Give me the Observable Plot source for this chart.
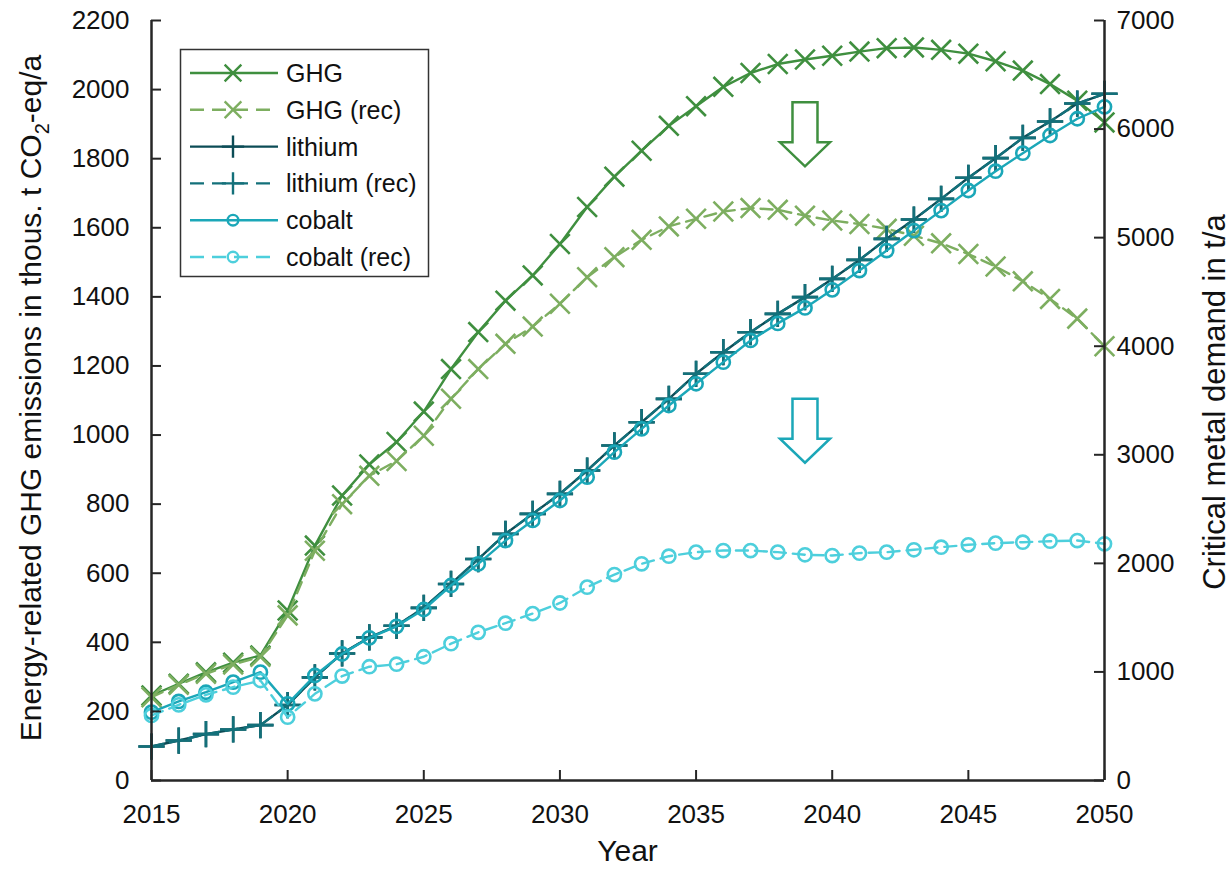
<!DOCTYPE html>
<html><head><meta charset="utf-8">
<script src="https://cdn.jsdelivr.net/npm/d3@7"></script>
<script src="https://cdn.jsdelivr.net/npm/@observablehq/plot@0.6"></script>
<style>
body{margin:0;background:#fff;}
#chart{width:1232px;height:870px;}
</style></head><body><div id="chart"></div>
<script>
const years = [2015,2016,2017,2018,2019,2020,2021,2022,2023,2024,2025,2026,2027,2028,2029,2030,2031,2032,2033,2034,2035,2036,2037,2038,2039,2040,2041,2042,2043,2044,2045,2046,2047,2048,2049,2050];

// GHG emissions, thous. t CO2-eq/a (left axis)
const ghg    = [246,280,313,341,362,492,680,825,915,980,1068,1191,1298,1389,1462,1553,1660,1748,1823,1895,1952,2008,2048,2074,2087,2098,2110,2120,2122,2115,2104,2082,2055,2016,1968,1905];
const ghgRec = [241,277,309,336,358,478,665,800,882,925,998,1105,1191,1264,1314,1380,1457,1515,1565,1604,1626,1647,1657,1652,1635,1621,1611,1597,1577,1555,1524,1488,1445,1394,1337,1257];

// Critical metal demand, t/a (right axis)
const lithium    = [313,368,427,470,510,695,950,1170,1318,1425,1590,1810,2040,2272,2456,2640,2855,3086,3300,3515,3746,3945,4129,4298,4452,4620,4795,4989,5167,5357,5551,5732,5919,6070,6235,6325];
const lithiumRec = [313,368,427,470,510,695,950,1170,1318,1425,1590,1810,2040,2272,2456,2640,2855,3086,3300,3515,3746,3945,4129,4298,4452,4620,4795,4989,5167,5357,5551,5732,5919,6070,6235,6325];
const cobalt     = [629,728,813,906,998,706,967,1165,1314,1420,1575,1796,1995,2210,2395,2579,2794,3024,3239,3454,3654,3853,4053,4210,4353,4519,4697,4881,5065,5249,5434,5612,5778,5941,6095,6205];
const cobaltRec  = [599,697,789,860,921,583,798,962,1048,1071,1140,1260,1365,1449,1537,1635,1781,1897,1996,2066,2103,2118,2118,2103,2079,2072,2094,2103,2125,2149,2171,2186,2195,2204,2210,2180];

const xTicks = [2015,2020,2025,2030,2035,2040,2045,2050];
const leftTicks = [0,200,400,600,800,1000,1200,1400,1600,1800,2000,2200];
const rightTicks = [0,1000,2000,3000,4000,5000,6000,7000];
const leftMax = 2200, rightMax = 7000;

const seriesNames = ["GHG","GHG (rec)","lithium","lithium (rec)","cobalt","cobalt (rec)"];
const seriesValues = [ghg, ghgRec, lithium, lithiumRec, cobalt, cobaltRec];
const seriesAxis = ["left","left","right","right","right","right"];
const seriesColors = ["#3f8f3f","#7dae60","#0c4c56","#13707a","#1ba7b8","#4dcfdc"];
const seriesDash = [null,"12,7",null,"12,7",null,"12,7"];
const seriesSymbols = ["times","times","plus","plus","circle","circle"];

const arrows = [
  {year: 2039, value: 1963, color: "#3f8f3f"},
  {year: 2039, value: 1105, color: "#1ba7b8"}
];

const k = leftMax / rightMax;
const W = 1232, H = 870, mL = 151, mR = 128, mT = 20, mB = 90;
const plotW = W - mL - mR, plotH = H - mT - mB;
const axisColor = "#262626";
const font = "'Liberation Sans', Arial, sans-serif";
const tickFont = 26;

const arrowSymbol = {
  draw(ctx) {
    const w = 12.5, hw = 25, s = 40, h = 64;
    ctx.moveTo(-w, 0); ctx.lineTo(w, 0); ctx.lineTo(w, s); ctx.lineTo(hw, s);
    ctx.lineTo(0, h); ctx.lineTo(-hw, s); ctx.lineTo(-w, s); ctx.closePath();
  }
};

const symR = {times: 9, plus: 8.5, circle: 6.6};

const marks = [];
seriesNames.forEach((name, i) => {
  const f = seriesAxis[i] === "left" ? 1 : k;
  const rows = years.map((yr, j) => ({year: yr, v: seriesValues[i][j] * f}));
  marks.push(Plot.line(rows, {x: "year", y: "v", stroke: seriesColors[i], strokeWidth: 2.4,
    strokeDasharray: seriesDash[i] || undefined}));
  marks.push(Plot.dot(rows, {x: "year", y: "v", symbol: seriesSymbols[i], r: symR[seriesSymbols[i]],
    stroke: seriesColors[i], strokeWidth: 2.6, fill: "none"}));
});
arrows.forEach(a => {
  marks.push(Plot.dot([a], {x: "year", y: "value", symbol: arrowSymbol, r: 10, stroke: a.color, strokeWidth: 2.5, fill: "none"}));
});

const plot = Plot.plot({
  width: W, height: H,
  marginLeft: mL, marginRight: mR, marginTop: mT, marginBottom: mB,
  style: {fontFamily: font, fontSize: tickFont + "px", color: "#111", background: "#fff"},
  x: {domain: [2015, 2050]},
  y: {domain: [0, leftMax]},
  marks: [
    ...marks,
    Plot.tickY(leftTicks, {y: d => d, insetRight: plotW - 10, stroke: axisColor, strokeWidth: 2}),
    Plot.tickY(rightTicks.map(v => v * k), {y: d => d, insetLeft: plotW - 10, stroke: axisColor, strokeWidth: 2}),
    Plot.tickX(xTicks, {x: d => d, insetTop: plotH - 10, stroke: axisColor, strokeWidth: 2}),
    Plot.ruleX([2015, 2050], {stroke: axisColor, strokeWidth: 2.5}),
    Plot.ruleY([0], {stroke: axisColor, strokeWidth: 2.5}),
    Plot.axisY(leftTicks, {anchor: "left", tickSize: 0, tickPadding: 22, label: null, fontSize: tickFont, tickFormat: d => String(d)}),
    Plot.axisY(rightTicks.map(v => v * k), {anchor: "right", tickSize: 0, tickPadding: 12, label: null, fontSize: tickFont, tickFormat: d => String(Math.round(d / k))}),
    Plot.axisX(xTicks, {anchor: "bottom", tickSize: 0, tickPadding: 24, label: null, fontSize: tickFont, tickFormat: d => String(d)})
  ]
});
document.getElementById("chart").appendChild(plot);

const svg = d3.select(plot);
// axis titles
const lt = svg.append("text").attr("transform", "translate(41,398) rotate(-90)")
  .attr("text-anchor", "middle").attr("font-family", font).attr("font-size", 30).attr("fill", "#111");
lt.append("tspan").text("Energy-related GHG emissions in thous. t CO");
lt.append("tspan").attr("font-size", 20).attr("dy", 8).text("2");
lt.append("tspan").attr("dy", -8).text("-eq/a");
svg.append("text").attr("transform", "translate(1225,402) rotate(-90)")
  .attr("text-anchor", "middle").attr("font-family", font).attr("font-size", 31).attr("fill", "#111")
  .text("Critical metal demand in t/a");
svg.append("text").attr("x", mL + plotW / 2).attr("y", 861)
  .attr("text-anchor", "middle").attr("font-family", font).attr("font-size", 30).attr("fill", "#111")
  .text("Year");

// legend
const lg = svg.append("g");
lg.append("rect").attr("x", 180.5).attr("y", 49.5).attr("width", 248).attr("height", 227)
  .attr("fill", "#fff").attr("stroke", "#333").attr("stroke-width", 1.5);
const symMap = {times: d3.symbolTimes, plus: d3.symbolPlus, circle: d3.symbolCircle};
seriesNames.forEach((name, i) => {
  const y = 73 + i * 36.8;
  lg.append("line").attr("x1", 190).attr("x2", 278).attr("y1", y).attr("y2", y)
    .attr("stroke", seriesColors[i]).attr("stroke-width", 2.4)
    .attr("stroke-dasharray", seriesDash[i] ? "14,8" : null);
  const r = symR[seriesSymbols[i]] * (seriesSymbols[i] === "circle" ? 0.8 : 0.85);
  lg.append("path").attr("transform", `translate(233,${y})`)
    .attr("d", d3.symbol(symMap[seriesSymbols[i]], Math.PI * r * r)())
    .attr("fill", "none").attr("stroke", seriesColors[i]).attr("stroke-width", 2.4);
  lg.append("text").attr("x", 286).attr("y", y + 9).attr("text-anchor", "start")
    .attr("font-family", font).attr("font-size", 25).attr("fill", "#111").text(name);
});
</script></body></html>
